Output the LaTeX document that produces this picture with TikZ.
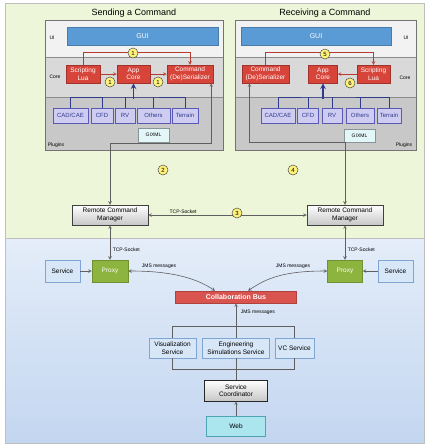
\documentclass[tikz,border=0pt]{standalone}
\usepackage{fontspec}
\setmainfont{Liberation Sans}
\definecolor{bggreen}{HTML}{EDF6D8}
\definecolor{bgbluetop}{HTML}{E4EDF9}
\definecolor{bgbluebot}{HTML}{C3D6F0}
\definecolor{uiband}{HTML}{F2F2F2}
\definecolor{coreband}{HTML}{D9D9D9}
\definecolor{plugband}{HTML}{C8C8C8}
\definecolor{guiblue}{HTML}{5B9BD5}
\definecolor{corered}{HTML}{D7443A}
\definecolor{numyellow}{HTML}{FFF27A}
\definecolor{plugfill}{HTML}{CFCCF2}
\definecolor{plugdraw}{HTML}{5A5AB4}
\definecolor{navy}{HTML}{2F3A8A}
\definecolor{gixml}{HTML}{E3F6F8}
\definecolor{proxygreen}{HTML}{8DB43E}
\definecolor{servblue}{HTML}{D8E7F8}
\definecolor{servdraw}{HTML}{7FA6D2}
\definecolor{busred}{HTML}{D9534F}
\definecolor{webcyan}{HTML}{ABE5EE}
\definecolor{webdraw}{HTML}{4FA3B3}
\definecolor{lngray}{HTML}{5F5F5F}

\begin{document}
\begin{tikzpicture}[x=1pt,y=-1pt,>=stealth,line width=0.5pt,
  bx/.style={draw,inner sep=0pt,align=center,font=\fontsize{6.5}{7.5}\selectfont},
  corebox/.style={bx,fill=corered,draw=corered!75!black,text=white,minimum height=18},
  plug/.style={bx,fill=plugfill,draw=plugdraw,text=navy,minimum height=15,font=\fontsize{6}{7}\selectfont},
  num/.style={circle,draw=black!70,fill=numyellow,inner sep=0pt,minimum size=10,font=\fontsize{6}{6}\selectfont},
  lbl/.style={inner sep=0.5pt,font=\fontsize{5}{6}\selectfont},
  conn/.style={draw=lngray,line width=0.6pt},
  redln/.style={draw=corered!85!black,line width=0.6pt},
  bluln/.style={draw=navy,line width=0.7pt}]
\useasboundingbox (0,0) rectangle (427,448);
% background
\fill[bggreen] (5,3) rectangle (424,238);
\shade[top color=bgbluetop,bottom color=bgbluebot] (5,239) rectangle (424,443);
\draw[black!25] (5,3) rectangle (424,443) (5,238.5) -- (424,238.5);
% the two client panels
\foreach \a/\b in {45/223,235/416}{
  \fill[uiband] (\a,20) rectangle (\b,57);
  \fill[coreband] (\a,57) rectangle (\b,97);
  \fill[plugband] (\a,97) rectangle (\b,150);
  \draw[black!45] (\a,57) -- (\b,57) (\a,97) -- (\b,97);
  \draw[black!55,line width=0.7pt] (\a,20) rectangle (\b,150);
}
\node[font=\fontsize{9}{10}\selectfont] (lttl) at (134,13) {Sending a Command};
\node[font=\fontsize{9}{10}\selectfont] (rttl) at (325,13) {Receiving a Command};
\node[lbl] (lui) at (52,38) {UI};
\node[lbl] (lcore) at (55,77) {Core};
\node[lbl] (lplug) at (56,145) {Plugins};
\node[lbl] (rui) at (406,38) {UI};
\node[lbl] (rcore) at (405,78) {Core};
\node[lbl] (rplug) at (404,145) {Plugins};
\node[bx,fill=guiblue,draw=guiblue!80!black,text=white,minimum width=151,minimum height=18,font=\fontsize{7}{8}\selectfont] (lgui) at (142.5,36) {GUI};
\node[bx,fill=guiblue,draw=guiblue!80!black,text=white,minimum width=150,minimum height=18,font=\fontsize{7}{8}\selectfont] (rgui) at (316,36) {GUI};
% core
\node[corebox,minimum width=34] (lsl) at (83,74) {Scripting\\Lua};
\node[corebox,minimum width=33] (lapp) at (133.5,74) {App\\Core};
\node[corebox,minimum width=46] (lcmd) at (190,74) {Command\\(De)Serializer};
\node[corebox,minimum width=47] (rcmd) at (265.5,74) {Command\\(De)Serializer};
\node[corebox,minimum width=29] (rapp) at (323,74) {App\\Core};
\node[corebox,minimum width=33] (rsl) at (373.5,74) {Scripting\\Lua};
% plugins
\foreach \n/\x/\w/\t in {cad/70.5/35/{CAD/CAE},cfd/102/22/CFD,rv/125/20/RV,oth/153.5/33/Others,ter/185/26/Terrain}
  \node[plug,minimum width=\w] (l\n) at (\x,115.5) {\t};
\foreach \n/\x/\w/\t in {cad/278/34/{CAD/CAE},cfd/308/21/CFD,rv/332/20/RV,oth/360/28/Others,ter/389/24/Terrain}
  \node[plug,minimum width=\w] (r\n) at (\x,115.5) {\t};
\node[plug,fill=gixml,draw=gixml!60!black,text=black,minimum width=31,minimum height=14,font=\fontsize{5}{6}\selectfont] (lgix) at (153.5,135) {GIXML};
\node[plug,fill=gixml,draw=gixml!60!black,text=black,minimum width=31,minimum height=13,font=\fontsize{5}{6}\selectfont] (rgix) at (359.5,136) {GIXML};
\coordinate (lhub) at (133.5,97);
\coordinate (rhub) at (323,97);
\foreach \s in {l,r}{
  \draw[bluln] (\s cad.north) |- (\s hub) -| (\s ter.north);
  \foreach \p in {cfd,rv,oth} \draw[bluln] (\s\p.north) -- (\s\p.north |- \s hub);
  \draw[bluln,line width=1.6pt,->] ([yshift=-2]\s hub) -- (\s app.south);
}
% red command flow
\draw[redln,->] (lsl.north) -- ++(0,-12) -| (lcmd.north);
\draw[redln,->] (lsl) -- (lapp);
\draw[redln,->] (lapp) -- (lcmd);
\draw[redln,->] (rcmd.north) -- ++(0,-12) -| (rsl.north);
\draw[redln,->] (rsl) -- (rapp);
% remote command managers
\node[bx,top color=white,bottom color=black!22,draw=black!75,minimum width=76,minimum height=20] (lrcm) at (110,215) {Remote Command\\Manager};
\node[bx,top color=white,bottom color=black!22,draw=black!75,minimum width=76,minimum height=20] (rrcm) at (345,215) {Remote Command\\Manager};
\draw[conn,<->] ([xshift=-2]lcmd.south east) -- ++(0,60) -| (lrcm.north);
\draw[conn,<->] (rrcm.north) -- ++(0,-62) -| ([xshift=-16]rcmd.south);
\draw[conn,<->] (lrcm) -- (rrcm) node[lbl,above=1,pos=0.22]{TCP-Socket};
% proxies and services
\node[bx,fill=proxygreen,draw=proxygreen!80!black,text=white,minimum width=36,minimum height=22] (lprx) at (110,271) {Proxy};
\node[bx,fill=proxygreen,draw=proxygreen!80!black,text=white,minimum width=35,minimum height=22] (rprx) at (345,271) {Proxy};
\node[bx,fill=servblue,draw=servdraw,minimum width=35,minimum height=22] (lsrv) at (62.5,271) {Service};
\node[bx,fill=servblue,draw=servdraw,minimum width=35,minimum height=22] (rsrv) at (395.5,271) {Service};
\draw[conn,<->] (lrcm) -- (lprx) node[lbl,right=2,pos=0.7]{TCP-Socket};
\draw[conn,<->] (rrcm) -- (rprx) node[lbl,right=2,pos=0.7]{TCP-Socket};
\draw[conn,->] (lsrv) -- (lprx);
\draw[conn,->] (rsrv) -- (rprx);
% collaboration bus
\node[bx,fill=busred,draw=busred!80!black,text=white,minimum width=121,minimum height=12,font=\bfseries\fontsize{7}{8}\selectfont] (bus) at (236,297) {Collaboration Bus};
\draw[conn,<->] (lprx.east) .. controls +(45,0) and +(-18,-12) .. ([xshift=-21]bus.north);
\draw[conn,<->] (rprx.west) .. controls +(-45,0) and +(18,-12) .. ([xshift=12]bus.north);
\node[lbl] (ljms) at (159,266) {JMS messages};
\node[lbl] (rjms) at (293,266) {JMS messages};
% backend services
\node[bx,fill=servblue,draw=servdraw,minimum width=47,minimum height=20] (vis) at (172.5,348) {Visualization\\Service};
\node[bx,fill=servblue,draw=servdraw,minimum width=67,minimum height=20] (eng) at (236,348) {Engineering\\Simulations Service};
\node[bx,fill=servblue,draw=servdraw,minimum width=39,minimum height=20] (vc) at (294.5,348) {VC Service};
\node[bx,top color=white,bottom color=black!22,draw=black!85,minimum width=63,minimum height=21] (coord) at (236,390.5) {Service\\Coordinator};
\node[bx,fill=webcyan,draw=webdraw,minimum width=59,minimum height=20] (web) at (236,426) {Web};
\draw[conn,<-] (bus.south) -- (eng.north) node[lbl,right=4,pos=0.26]{JMS messages};
\draw[conn] (vis.north) -- ++(0,-11) -| (vc.north);
\draw[conn] (vis.south) -- ++(0,11) -| (vc.south);
\draw[conn] (eng.south) -- (coord.north);
\draw[conn,->] (web) -- (coord);
% step numbers
\node[num] (n1a) at (133,53) {1};
\node[num] (n1b) at (110,82) {1};
\node[num] (n1c) at (158,82) {1};
\node[num] (n5) at (325,54) {5};
\node[num] (n6) at (350,83) {6};
\node[num] (n2) at (163,170) {2};
\node[num] (n4) at (293,170) {4};
\node[num] (n3) at (237,213) {3};
\end{tikzpicture}
\end{document}
